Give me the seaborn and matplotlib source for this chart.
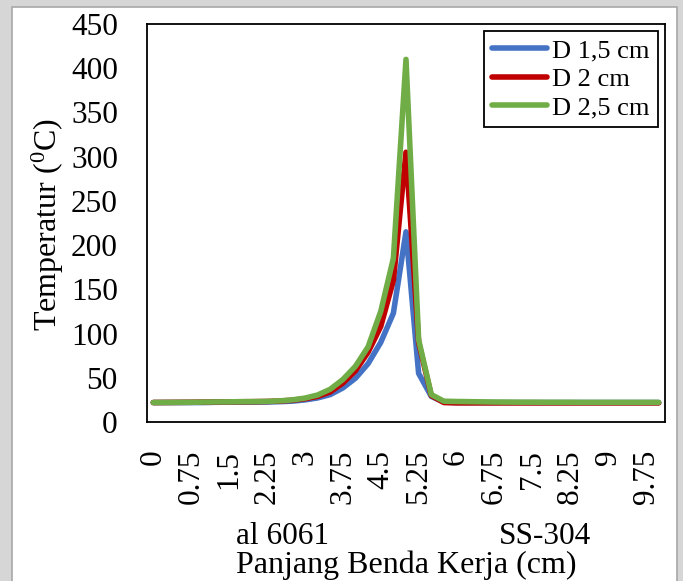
import matplotlib
matplotlib.use("Agg")
import matplotlib.pyplot as plt
from matplotlib.patches import Rectangle
import pandas as pd
import seaborn as sns

# Position along the workpiece (cm)
x_cm = [0, 0.25, 0.5, 0.75, 1, 1.25, 1.5, 1.75, 2, 2.25, 2.5, 2.75, 3, 3.25,
        3.5, 3.75, 4, 4.25, 4.5, 4.75, 5, 5.25, 5.5, 5.75, 6, 6.25, 6.5, 6.75,
        7, 7.25, 7.5, 7.75, 8, 8.25, 8.5, 8.75, 9, 9.25, 9.5, 9.75, 10]

# Temperature (deg C) for each diameter
t_d15 = [22.0, 22.0, 22.0, 22.0, 22.0, 22.3, 22.4, 22.5, 22.5, 22.6,
         23.0, 23.6, 25.0, 27.2, 31.0, 38.5, 49.5, 66.0, 90.0, 123.0,
         215.0, 55.0, 29.0, 22.5, 22.0, 22.0, 22.0, 22.0, 22.0, 22.0,
         22.0, 22.0, 22.0, 22.0, 22.0, 22.0, 22.0, 22.0, 22.0, 22.0, 22.0]
t_d20 = [22.0, 22.1, 22.2, 22.3, 22.5, 22.7, 22.8, 22.9, 23.0, 23.2,
         23.7, 24.6, 26.3, 29.0, 34.0, 44.0, 58.0, 79.0, 108.0, 160.0,
         305.0, 90.0, 30.0, 22.0, 21.6, 21.6, 21.6, 21.6, 21.6, 21.6,
         21.6, 21.6, 21.6, 21.6, 21.6, 21.6, 21.6, 21.6, 21.6, 21.6, 21.6]
t_d25 = [22.0, 22.1, 22.2, 22.3, 22.5, 22.7, 22.8, 23.0, 23.1, 23.3,
         23.9, 25.0, 27.0, 30.5, 37.0, 48.0, 63.0, 85.0, 125.0, 185.0,
         410.0, 93.0, 31.0, 23.5, 23.2, 23.0, 22.8, 22.6, 22.5, 22.4,
         22.4, 22.3, 22.3, 22.3, 22.2, 22.2, 22.2, 22.2, 22.2, 22.2, 22.2]

series_names = ["D 1,5 cm", "D 2 cm", "D 2,5 cm"]
series_colors = ["#4472C4", "#C00000", "#70AD47"]
y_ticks = [0, 50, 100, 150, 200, 250, 300, 350, 400, 450]

df = pd.concat([
    pd.DataFrame({"x": x_cm, "T": vals, "series": name})
    for name, vals in zip(series_names, [t_d15, t_d20, t_d25])
], ignore_index=True)

sns.set_theme(style="white")
plt.rcParams["font.family"] = ["Liberation Serif", "DejaVu Serif"]
plt.rcParams["mathtext.fontset"] = "custom"
plt.rcParams["mathtext.rm"] = "Liberation Serif"
plt.rcParams["text.color"] = "black"

fig = plt.figure(figsize=(6.83, 5.81), dpi=100, facecolor="#d6d6d6")
# white sheet behind the chart
sheet = Rectangle((12 / 683, -0.01), 665 / 683, 1 - 7 / 581 + 0.01,
                  transform=fig.transFigure, facecolor="white",
                  edgecolor="#a8a8a8", linewidth=1.2, zorder=-10)
fig.add_artist(sheet)

ax = fig.add_axes([147 / 683, 1 - 422 / 581, 518 / 683, 398 / 581])
ax.set_zorder(1)
ax.set_facecolor("white")

lw = 4.0
sns.lineplot(data=df, x="x", y="T", hue="series", palette=series_colors,
             hue_order=series_names, linewidth=lw, ax=ax, sort=False,
             solid_capstyle="round", solid_joinstyle="round")

ax.set_xlim(-0.125, 10.125)
ax.set_ylim(0, 450)
ax.set_xticks(x_cm[::3])
ax.set_xticklabels([f"{v:g}" for v in x_cm[::3]], rotation=90)
ax.set_yticks(y_ticks)
ax.set_yticklabels([str(v) for v in y_ticks])
ax.tick_params(axis="x", length=0, pad=20, labelsize=22.5, labelcolor="black")
ax.tick_params(axis="y", length=0, pad=21, labelsize=22.5, labelcolor="black")
ax.set_xlabel("")
ax.set_ylabel("")
for sp in ax.spines.values():
    sp.set_visible(True)
    sp.set_color("black")
    sp.set_linewidth(1.3)

handles, labels = ax.get_legend_handles_labels()
leg = ax.legend(handles, labels, loc="upper right",
                bbox_to_anchor=(0.986, 0.982), borderaxespad=0,
                fontsize=19, handlelength=2.1, handletextpad=0.2,
                labelspacing=0.18, borderpad=0.3, frameon=True,
                fancybox=False, framealpha=1)
leg.get_frame().set_edgecolor("black")
leg.get_frame().set_linewidth(1.3)
for h in leg.get_lines():
    h.set_linewidth(lw)
    h.set_solid_capstyle("round")
for t in leg.get_texts():
    t.set_color("black")

fig.text(48 / 683, 1 - 225 / 581, r"Temperatur ($\mathregular{^{0}}$C)",
         rotation=90, ha="center", va="center", fontsize=23, color="black")
fig.text(282 / 683, 1 - 537 / 581, "al 6061", ha="center", va="center",
         fontsize=22.5, color="black")
fig.text(545 / 683, 1 - 537 / 581, "SS-304", ha="center", va="center",
         fontsize=22.5, color="black")
fig.text(406 / 683, 1 - 565 / 581, "Panjang Benda Kerja (cm)", ha="center",
         va="center", fontsize=23, color="black")

fig.savefig("out.png", dpi=100, facecolor=fig.get_facecolor())
